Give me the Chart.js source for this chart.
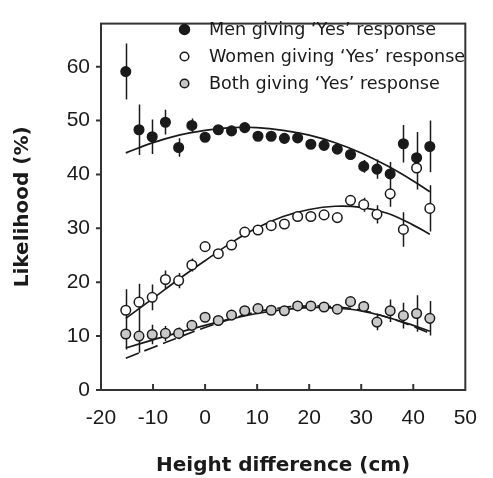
<!DOCTYPE html>
<html>
<head>
<meta charset="utf-8">
<script src="https://cdn.jsdelivr.net/npm/chart.js@4.4.0/dist/chart.umd.min.js"></script>
<style>
  html, body { margin: 0; padding: 0; background: #fff; }
</style>
</head>
<body>
<canvas id="chart" width="493" height="478"></canvas>
<script>
// height difference (cm), one point per inch
var heights = [-15.24, -12.70, -10.16, -7.62, -5.08, -2.54, 0, 2.54, 5.08, 7.62, 10.16, 12.70,
               15.24, 17.78, 20.32, 22.86, 25.40, 27.94, 30.48, 33.02, 35.56, 38.10, 40.64, 43.18];

var men =      [59.1, 48.3, 47.0, 49.7, 45.0, 49.1, 46.9, 48.3, 48.1, 48.7, 47.1, 47.1,
                46.7, 46.8, 45.6, 45.4, 44.7, 43.7, 41.5, 41.0, 40.1, 45.7, 43.1, 45.2];
var menErr =   [5.2, 4.7, 3.2, 2.3, 1.7, 1.3, 0.6, 0.5, 0.5, 0.5, 0.5, 0.5,
                0.5, 0.5, 0.6, 0.6, 0.7, 0.9, 1.2, 1.8, 2.2, 3.5, 4.8, 4.8];

var women =    [14.8, 16.3, 17.2, 20.5, 20.3, 23.2, 26.6, 25.3, 26.9, 29.3, 29.7, 30.5,
                30.8, 32.2, 32.2, 32.5, 32.0, 35.2, 34.4, 32.6, 36.4, 29.8, 41.2, 33.7];
var womenErr = [3.9, 3.4, 2.4, 1.7, 1.4, 1.2, 0.8, 0.5, 0.5, 0.5, 0.5, 0.5,
                0.5, 0.5, 0.5, 0.6, 0.9, 1.0, 1.3, 1.7, 2.4, 3.2, 4.0, 4.3];

var both =     [10.4, 10.0, 10.3, 10.5, 10.5, 12.0, 13.5, 12.9, 13.9, 14.7, 15.1, 14.8,
                14.7, 15.6, 15.6, 15.4, 15.0, 16.4, 15.5, 12.6, 14.7, 13.8, 14.2, 13.3];
var bothErr =  [2.9, 3.1, 1.8, 1.4, 1.1, 0.6, 0.5, 0.4, 0.4, 0.4, 0.4, 0.4,
                0.4, 0.4, 0.4, 0.4, 0.5, 0.8, 1.0, 1.5, 2.1, 2.4, 3.4, 3.2];

// fitted curves
var fitX =        [-15.24, -10, -5, 0, 5, 10, 15, 20, 25, 30, 35, 40, 43.18];
var menFit =      [44.0, 45.9, 47.3, 48.2, 48.7, 48.7, 48.2, 47.3, 45.9, 44.0, 41.6, 38.8, 36.8];
var womenFit =    [13.3, 17.0, 20.6, 24.0, 27.3, 30.1, 32.2, 33.5, 34.1, 33.9, 32.8, 30.6, 28.9];
var bothFit =     [7.8, 9.3, 10.7, 12.0, 13.2, 14.2, 14.9, 15.3, 15.2, 14.7, 13.5, 12.0, 10.9];
var bothProduct = [5.9, 7.9, 9.8, 11.6, 13.2, 14.5, 15.3, 15.6, 15.4, 14.8, 13.5, 11.8, 10.5];

var xTicks = [-20, -10, 0, 10, 20, 30, 40, 50];
var yTicks = [0, 10, 20, 30, 40, 50, 60];

var legendLabels = ['Men giving \u2018Yes\u2019 response',
                    'Women giving \u2018Yes\u2019 response',
                    'Both giving \u2018Yes\u2019 response'];

var INK = '#1a1a1a';
var GREY = '#c8c8c8';

function pts(xs, ys) {
  return xs.map(function(x, i) { return {x: x, y: ys[i]}; });
}

var seriesErr = [[men, menErr], [women, womenErr], [both, bothErr]];

var errorBars = {
  id: 'errorBars',
  beforeDatasetsDraw: function(chart) {
    var ctx = chart.ctx, sx = chart.scales.x, sy = chart.scales.y;
    ctx.save();
    ctx.strokeStyle = INK;
    ctx.lineWidth = 1.5;
    ctx.beginPath();
    seriesErr.forEach(function(s) {
      var vals = s[0], errs = s[1];
      for (var i = 0; i < heights.length; i++) {
        var px = Math.round(sx.getPixelForValue(heights[i])) + 0.5;
        ctx.moveTo(px, sy.getPixelForValue(vals[i] + errs[i]));
        ctx.lineTo(px, sy.getPixelForValue(vals[i] - errs[i]));
      }
    });
    ctx.stroke();
    ctx.restore();
  }
};

var frame = {
  id: 'frame',
  afterDraw: function(chart) {
    var ctx = chart.ctx, a = chart.chartArea, sx = chart.scales.x, sy = chart.scales.y;
    ctx.save();
    ctx.strokeStyle = '#333';
    ctx.lineWidth = 2;
    ctx.strokeRect(a.left, a.top, a.right - a.left, a.bottom - a.top);
    ctx.beginPath();
    xTicks.forEach(function(v) {
      var px = sx.getPixelForValue(v);
      if (v === xTicks[0] || v === xTicks[xTicks.length - 1]) return;
      ctx.moveTo(px, a.bottom);
      ctx.lineTo(px, a.bottom - 6);
    });
    yTicks.forEach(function(v) {
      var py = sy.getPixelForValue(v);
      ctx.moveTo(a.left, py);
      ctx.lineTo(a.left - 5, py);
    });
    ctx.stroke();

    // legend in the upper right of the plot
    var lx = 184.5, ly = [29.5, 56.5, 83.5];
    var fills = [INK, '#fff', GREY];
    ctx.lineWidth = 1.5;
    ctx.strokeStyle = INK;
    ctx.font = '17.6px "DejaVu Sans"';
    ctx.textBaseline = 'middle';
    ctx.textAlign = 'left';
    for (var i = 0; i < 3; i++) {
      ctx.beginPath();
      ctx.arc(lx, ly[i], i === 0 ? 5 : 4.3, 0, Math.PI * 2);
      ctx.fillStyle = fills[i];
      ctx.fill();
      ctx.stroke();
      ctx.fillStyle = '#1a1a1a';
      ctx.fillText(legendLabels[i], 209, ly[i] + 1);
    }
    ctx.restore();
  }
};

function pointSet(label, ys, fill) {
  return {
    label: label,
    data: pts(heights, ys),
    backgroundColor: fill,
    borderColor: INK,
    borderWidth: 1.5,
    pointRadius: 4.8,
    pointHoverRadius: 4.8,
    order: 0
  };
}

function curveSet(label, ys, dash) {
  return {
    label: label,
    data: pts(fitX, ys),
    showLine: true,
    borderColor: INK,
    borderWidth: 1.7,
    borderDash: dash || [],
    pointRadius: 0,
    tension: 0.4,
    fill: false,
    order: 1
  };
}

new Chart(document.getElementById('chart'), {
  type: 'scatter',
  data: {
    datasets: [
      pointSet(legendLabels[0], men, INK),
      pointSet(legendLabels[1], women, '#fff'),
      pointSet(legendLabels[2], both, GREY),
      curveSet('men fit', menFit),
      curveSet('women fit', womenFit),
      curveSet('both fit', bothFit),
      curveSet('product', bothProduct, [14, 6])
    ]
  },
  options: {
    responsive: false,
    animation: false,
    layout: { padding: { top: 12, right: 14, left: 0, bottom: 0 } },
    plugins: {
      legend: { display: false },
      tooltip: { enabled: false }
    },
    scales: {
      x: {
        type: 'linear',
        min: -20,
        max: 50,
        grid: { display: false, drawTicks: false },
        border: { display: false },
        afterBuildTicks: function(s) { s.ticks = xTicks.map(function(v) { return {value: v}; }); },
        afterFit: function(s) { s.height = 88; },
        ticks: {
          color: '#1a1a1a',
          padding: 16,
          maxRotation: 0,
          font: { family: '"Liberation Sans", Arial', size: 21 }
        },
        title: {
          display: true,
          text: 'Height difference (cm)',
          color: '#1a1a1a',
          padding: { top: 0, bottom: 0 },
          font: { family: '"DejaVu Sans"', size: 20, weight: 'bold' }
        }
      },
      y: {
        type: 'linear',
        min: 0,
        max: 68,
        grid: { display: false, drawTicks: false },
        border: { display: false },
        afterBuildTicks: function(s) { s.ticks = yTicks.map(function(v) { return {value: v}; }); },
        afterFit: function(s) { s.width = 101; },
        ticks: {
          color: '#1a1a1a',
          padding: 11,
          font: { family: '"Liberation Sans", Arial', size: 21 }
        },
        title: {
          display: true,
          text: 'Likelihood (%)',
          color: '#1a1a1a',
          padding: { top: 11, bottom: 0 },
          font: { family: '"DejaVu Sans"', size: 20, weight: 'bold' }
        }
      }
    }
  },
  plugins: [errorBars, frame]
});
</script>
</body>
</html>
